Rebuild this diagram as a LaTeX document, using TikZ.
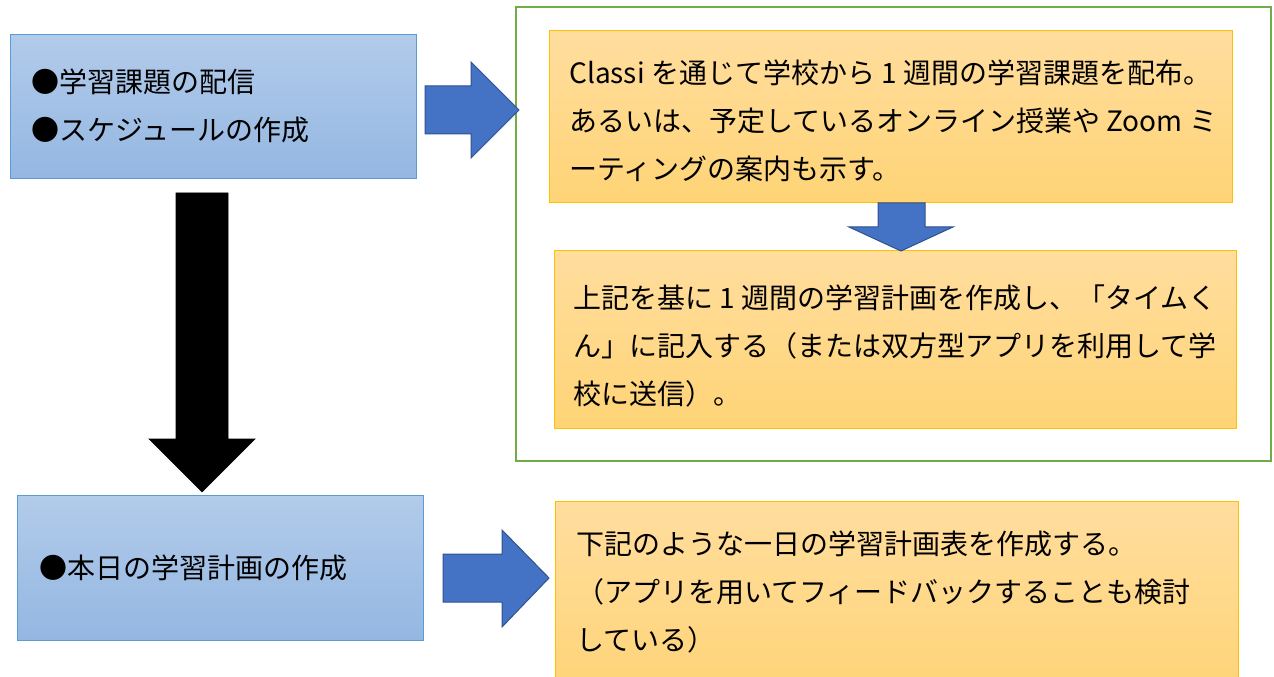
\documentclass[tikz,border=0pt]{standalone}
\usepackage{fontspec}
\setmainfont{Noto Sans CJK JP}
\definecolor{bluetop}{RGB}{178,203,234}
\definecolor{bluebot}{RGB}{148,183,226}
\definecolor{blueedge}{RGB}{91,155,213}
\definecolor{orgtop}{RGB}{255,221,158}
\definecolor{orgbot}{RGB}{255,212,118}
\definecolor{orgedge}{RGB}{255,192,0}
\definecolor{arrowfill}{RGB}{68,114,196}
\definecolor{arrowedge}{RGB}{47,82,143}
\definecolor{greenedge}{RGB}{112,173,71}
\begin{document}
\begin{tikzpicture}[x=0.75pt,y=-0.75pt,
  bluebox/.style={draw=blueedge,line width=0.75pt,top color=bluetop,bottom color=bluebot,anchor=north west,inner sep=0pt},
  orgbox/.style={draw=orgedge,line width=0.75pt,top color=orgtop,bottom color=orgbot,anchor=north west,inner sep=0pt},
  framebox/.style={draw=greenedge,line width=1.6pt,anchor=north west,inner sep=0pt},
  txt/.style={anchor=west,align=left,inner sep=0pt,font=\fontsize{21pt}{36pt}\selectfont},
  blockarrow/.style={fill=arrowfill,draw=arrowedge,line width=0.75pt,line join=miter},
  blackarrow/.style={fill=black,draw=black,line width=0.5pt}]
\useasboundingbox (0,0) rectangle (1274,677);
% frame
\node[framebox,minimum width=566.25pt,minimum height=340.5pt] (frame) at (515,6) {};
% left boxes
\node[bluebox,minimum width=304.5pt,minimum height=108pt] (b1) at (10,34) {};
\node[txt] (b1t) at (31,106) {●学習課題の配信\\●スケジュールの作成};
\node[bluebox,minimum width=304.5pt,minimum height=108.75pt] (b2) at (17,495) {};
\node[txt] (b2t) at (39,568) {●本日の学習計画の作成};
% orange boxes
\node[orgbox,minimum width=512.25pt,minimum height=129pt] (o1) at (549,30) {};
\node[txt] (o1t) at (569,120.5) {Classi を通じて学校から 1 週間の学習課題を配布。\\あるいは、予定しているオンライン授業や Zoom ミ\\ーティングの案内も示す。};
\node[orgbox,minimum width=511.5pt,minimum height=133.5pt] (o2) at (554,250) {};
\node[txt] (o2t) at (573,345.5) {上記を基に 1 週間の学習計画を作成し、「タイムく\\ん」に記入する（または双方型アプリを利用して学\\校に送信）。};
\node[orgbox,minimum width=512.25pt,minimum height=150pt] (o3) at (555,501) {};
\node[txt] (o3t) at (576,592.5) {下記のような一日の学習計画表を作成する。\\（アプリを用いてフィードバックすることも検討\\している）};
% arrows
\draw[blockarrow] (425,86) -- (471,86) -- (471,62) -- (519,110) -- (471,158) -- (471,134) -- (425,134) -- cycle;
\draw[blockarrow] (443,554) -- (502,554) -- (502,530) -- (549,578) -- (502,627) -- (502,602) -- (443,602) -- cycle;
\draw[blockarrow] (878,203) -- (925,203) -- (925,227) -- (953,227) -- (901,251) -- (849,227) -- (878,227) -- cycle;
\draw[blackarrow] (176,193) -- (228,193) -- (228,439) -- (255,439) -- (202,492) -- (149,439) -- (176,439) -- cycle;
\end{tikzpicture}
\end{document}
